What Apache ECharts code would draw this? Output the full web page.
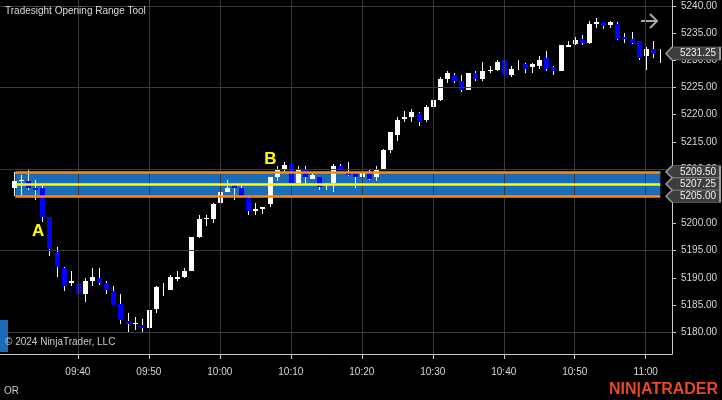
<!DOCTYPE html>
<html>
<head>
<meta charset="utf-8">
<script src="https://cdn.jsdelivr.net/npm/echarts@6/dist/echarts.min.js"></script>
<style>
html,body{margin:0;padding:0;background:#000;}
#chart{width:722px;height:400px;}
</style>
</head>
<body>
<div id="chart"></div>
<script>
// ---------- DATA ----------
const times = ['09:31','09:32','09:33','09:34','09:35','09:36','09:37','09:38','09:39','09:40',
  '09:41','09:42','09:43','09:44','09:45','09:46','09:47','09:48','09:49','09:50',
  '09:51','09:52','09:53','09:54','09:55','09:56','09:57','09:58','09:59','10:00',
  '10:01','10:02','10:03','10:04','10:05','10:06','10:07','10:08','10:09','10:10',
  '10:11','10:12','10:13','10:14','10:15','10:16','10:17','10:18','10:19','10:20',
  '10:21','10:22','10:23','10:24','10:25','10:26','10:27','10:28','10:29','10:30',
  '10:31','10:32','10:33','10:34','10:35','10:36','10:37','10:38','10:39','10:40',
  '10:41','10:42','10:43','10:44','10:45','10:46','10:47','10:48','10:49','10:50',
  '10:51','10:52','10:53','10:54','10:55','10:56','10:57','10:58','10:59','11:00',
  '11:01','11:02'];
const opens = [5206.5,5207.75,5207.75,5206.5,5206.5,5201.25,5194.75,5191.75,5189,5189,
  5187,5189.5,5190,5189,5187.5,5185.25,5182,5181.5,5181.25,5180.75,
  5184.25,5188,5187.75,5189.75,5190.25,5191.25,5197.5,5200.75,5200.75,5203.75,
  5205.75,5207,5206.5,5204.75,5202.25,5202.75,5203.5,5208.5,5210,5211,
  5207.5,5210,5208.25,5208.5,5207,5207.5,5210.5,5209.5,5209.25,5208.5,
  5209.25,5208.5,5210,5213.5,5216.25,5219.25,5219.5,5220.25,5219,5221.5,
  5222.75,5226.5,5227.25,5226.25,5224.5,5227.75,5226.5,5228,5228.25,5230,
  5227.25,5229,5229.25,5228.75,5229,5230.5,5228.75,5228,5232.5,5233,
  5234,5233.25,5236.75,5237,5236.5,5236.75,5234.25,5234,5233.5,5230.75,
  5232,5231.25];
const closes = [5207.75,5208,5206.5,5206.25,5201.25,5195.25,5192,5188.5,5189.5,5187,
  5189.5,5190.25,5189,5187.75,5185,5182.25,5181.5,5181.75,5180.75,5184,
  5188.25,5188,5190.25,5190.25,5191.25,5197.5,5200.75,5201,5203.5,5205.75,
  5206.5,5206.5,5205,5202.25,5202.75,5203,5208.5,5210,5210.75,5207.5,
  5210,5208.5,5209,5206.75,5207,5210.5,5209.75,5209,5208.5,5209.25,
  5208.25,5210,5213.5,5216.75,5219,5219.5,5220.5,5218.75,5221.5,5222.75,
  5226.5,5227.75,5226.25,5224.5,5227.75,5226.5,5228,5228.25,5229.75,5227.25,
  5228.5,5229,5228.5,5229.25,5230,5228.5,5228,5232.75,5232.75,5233.75,
  5233.25,5236.75,5237,5236.25,5237,5234,5234,5233.25,5230.5,5232,
  5231.25,5231.25];
const lows = [5205,5205.25,5206.25,5204.25,5200.25,5194,5190.25,5187.5,5188.5,5186,
  5185.5,5188.5,5188.75,5187,5185,5181.5,5180,5180.5,5180,5180.5,
  5183.5,5186.75,5187.75,5189.5,5190,5191.25,5197.25,5199.5,5200,5203.5,
  5205.75,5204.25,5205,5201.5,5201.5,5201.75,5203,5207.75,5209.5,5206.5,
  5207.5,5207.5,5208.25,5206.25,5206.25,5205.75,5209.75,5208.75,5206.5,5208,
  5208,5207.75,5209.75,5213,5215.25,5218.75,5218.75,5218,5218.75,5221.25,
  5222.5,5225.75,5225.75,5224.25,5224.5,5226.25,5226.25,5227.75,5228,5227,
  5227,5228.25,5227.75,5227.75,5228.5,5228,5227.25,5228,5232.5,5232.75,
  5232.75,5233,5236,5235.75,5236,5233.75,5233.25,5233,5230,5228.25,
  5230.5,5229.5];
const highs = [5209.5,5209,5209.75,5208,5207,5201.25,5195.75,5192,5191.25,5190.5,
  5190,5191.75,5191.75,5189.5,5188.5,5187,5183.5,5182.75,5182.5,5184,
  5188.5,5189,5190.5,5191.25,5191.75,5197.5,5201.5,5201.5,5203.75,5206.5,
  5208,5207,5207,5205,5203.75,5203,5208.5,5210.5,5211.25,5211.75,
  5210.5,5210.5,5209.25,5208.5,5207.5,5211,5211,5211.25,5209.5,5209.75,
  5210,5210.5,5213.75,5216.75,5219.5,5220.75,5221,5220.5,5221.75,5223.5,
  5227,5228,5227.75,5227.25,5227.75,5228,5229.75,5229,5230,5230,
  5229,5230,5229.5,5229.5,5230.75,5231.75,5229,5232.75,5233.5,5234.25,
  5234.75,5237.25,5237.75,5237,5237.25,5237,5235,5235.25,5233.5,5232.5,
  5233.5,5232];

const yTickValues = [5180,5185,5190,5195,5200,5205,5210,5215,5220,5225,5230,5235,5240];
const xTickTimes = ['09:40','09:50','10:00','10:10','10:20','10:30','10:40','10:50','11:00'];
const gridPrices = [5180,5195,5210,5225,5240];
const viewStart = '09:29:02';
const viewEnd = '11:03:42';
const priceMin = 5176;
const priceMax = 5241.1;

const orHigh = 5209.5;
const orMid = 5207.25;
const orLow = 5205;
const orStart = '09:31:12';
const orEnd = '11:02:03';
const lastPrice = 5231.25;

const annotLabels = ['A','B'];
const annotTimes = ['09:34:24','10:07:08'];
const annotPrices = [5198.6,5211.85];

// ---------- HELPERS ----------
function toMin(s){
  const p = s.split(':').map(Number);
  return (p[0]-9)*60 + p[1] + (p[2]||0)/60;
}
function fmtTime(m){
  const total = Math.round(m);
  const h = 9 + Math.floor(total/60);
  const mm = total % 60;
  return String(h).padStart(2,'0') + ':' + String(mm).padStart(2,'0');
}
const FONT = 'Liberation Sans, Arial, sans-serif';
const xMin = toMin(viewStart), xMax = toMin(viewEnd);
const xTickMinutes = xTickTimes.map(toMin);
const candleData = times.map((t,i)=>[toMin(t), opens[i], closes[i], lows[i], highs[i]]);

function renderCandle(params, api){
  const t = api.value(0), o = api.value(1), c = api.value(2), l = api.value(3), h = api.value(4);
  const pH = api.coord([t,h]), pL = api.coord([t,l]), pO = api.coord([t,o]), pC = api.coord([t,c]);
  const cx = Math.round(pH[0]);
  const children = [{
    type:'rect',
    shape:{x:cx, y:Math.round(pH[1]), width:1, height:Math.max(1, Math.round(pL[1]) - Math.round(pH[1]))},
    style:{fill:'#ffffff'}
  }];
  if (c !== o){
    const top = Math.round(Math.min(pO[1], pC[1]));
    const bot = Math.round(Math.max(pO[1], pC[1]));
    children.push({
      type:'rect',
      shape:{x:cx-2, y:top, width:5, height:Math.max(1, bot-top)},
      style:{fill: c > o ? '#ffffff' : '#0000ff'}
    });
  }
  return {type:'group', children};
}

const tagPath = 'path://M0,6L6,0L54,0L54,12L6,12Z';
const tagPrices = [orHigh, orMid, orLow, lastPrice];

const chart = echarts.init(document.getElementById('chart'), null, {renderer:'canvas'});
const option = {
  backgroundColor:'#000000',
  animation:false,
  grid:{left:0, top:0, width:672, height:354, containLabel:false},
  xAxis:{
    type:'value', min:xMin, max:xMax,
    axisLine:{show:true, lineStyle:{color:'#c8c8c8', width:1}},
    axisTick:{show:true, customValues:xTickMinutes, length:5, lineStyle:{color:'#c8c8c8'}},
    axisLabel:{show:true, customValues:xTickMinutes, formatter:v=>fmtTime(v), color:'#d4d8dc', fontSize:10, fontFamily:FONT, margin:13},
    splitLine:{show:false}
  },
  yAxis:{
    type:'value', position:'right', min:priceMin, max:priceMax, scale:true,
    axisLine:{show:true, lineStyle:{color:'#c8c8c8', width:1}},
    axisTick:{show:true, customValues:yTickValues, length:4, lineStyle:{color:'#c8c8c8'}},
    axisLabel:{show:true, customValues:yTickValues, formatter:v=>Number(v).toFixed(2), color:'#d4d8dc', fontSize:10, fontFamily:FONT, margin:9},
    splitLine:{show:false}
  },
  series:[
    { // grid lines
      type:'line', data:[], z:1, silent:true,
      markLine:{
        silent:true, animation:false, symbol:['none','none'],
        label:{show:false}, emphasis:{disabled:true},
        lineStyle:{color:'#3a3a3a', width:1, type:'solid'},
        data:[...gridPrices.map(p=>({yAxis:p})), ...xTickMinutes.map(m=>({xAxis:m}))]
      }
    },
    { // opening range band
      type:'line', data:[], z:2, silent:true,
      markArea:{
        silent:true, animation:false,
        itemStyle:{color:'#1b6cb8', opacity:1},
        emphasis:{disabled:true},
        data:[[{coord:[toMin(orStart), orHigh]},{coord:[toMin(orEnd), orLow]}]]
      },
      markLine:{
        silent:true, animation:false, symbol:['none','none'],
        label:{show:false}, emphasis:{disabled:true},
        data:[
          [{coord:[toMin(orStart), orHigh], lineStyle:{color:'#ff8c00', width:2.5, type:'solid'}},{coord:[toMin(orEnd), orHigh]}],
          [{coord:[toMin(orStart), orMid], lineStyle:{color:'#ffff00', width:2.5, type:'solid'}},{coord:[toMin(orEnd), orMid]}],
          [{coord:[toMin(orStart), orLow], lineStyle:{color:'#ff8c00', width:2.5, type:'solid'}},{coord:[toMin(orEnd), orLow]}]
        ]
      }
    },
    { // candles
      type:'custom', z:3, clip:true, silent:true,
      renderItem:renderCandle,
      encode:{x:0, y:[1,2,3,4]},
      data:candleData
    },
    { // A / B labels
      type:'scatter', data:[], z:4, silent:true,
      markPoint:{
        silent:true, animation:false, symbol:'circle', symbolSize:1,
        itemStyle:{color:'rgba(0,0,0,0)'},
        label:{show:true, position:'inside', color:'#ffff00', fontSize:17, fontWeight:'bold', fontFamily:FONT, formatter:p=>p.name},
        data:annotLabels.map((n,i)=>({name:n, coord:[toMin(annotTimes[i]), annotPrices[i]]}))
      }
    },
    { // price tags
      type:'scatter', data:[], z:6, silent:true,
      markPoint:{
        silent:true, animation:false,
        symbol:tagPath, symbolKeepAspect:false,
        itemStyle:{color:'#3d3d3d', borderColor:'#9a9a9a', borderWidth:1},
        label:{show:true, position:'inside', color:'#f0f0f0', fontSize:10, fontFamily:FONT, offset:[5,0],
          formatter:p=>Number(p.value).toFixed(2)},
        data:tagPrices.map(p=>({
          coord:[xMax-0.002, p], value:p,
          symbolSize: p===lastPrice ? [54,13] : [54,12],
          symbolOffset:[21,0]
        }))
      }
    }
  ],
  graphic:[
    {type:'text', left:5, top:6, silent:true, z:10,
      style:{text:'Tradesight Opening Range Tool', fill:'#d8dce0', font:'10px '+FONT}},
    {type:'rect', left:0, top:320, silent:true, z:10, shape:{width:8, height:32}, style:{fill:'#1b6cb8'}},
    {type:'text', left:5, top:337, silent:true, z:10,
      style:{text:'\u00A9 2024 NinjaTrader, LLC', fill:'#c8ccd0', font:'10px '+FONT}},
    {type:'text', left:4, top:386, silent:true, z:10,
      style:{text:'OR', fill:'#c8ccd0', font:'10px '+FONT}},
    {type:'text', left:609, top:382, silent:true, z:10,
      style:{text:'NIN|ATRADER', fill:'#e8472a', font:'bold 16px '+FONT}},
    {type:'group', silent:true, z:10, children:[
      {type:'polyline', shape:{points:[[641,21],[657,21]]}, style:{stroke:'#a8a8a8', lineWidth:2, fill:null}},
      {type:'polyline', shape:{points:[[650,14],[657,21],[650,28]]}, style:{stroke:'#a8a8a8', lineWidth:2, fill:null}}
    ]}
  ]
};
chart.setOption(option);
</script>
</body>
</html>
